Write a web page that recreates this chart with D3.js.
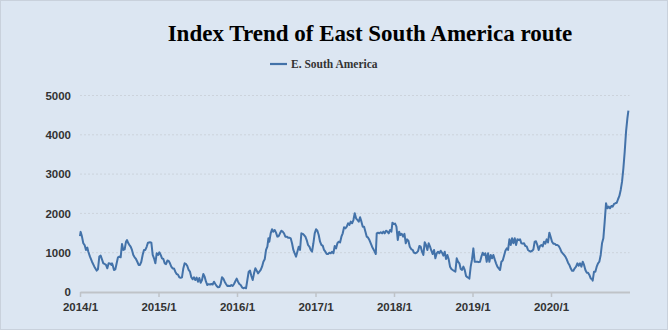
<!DOCTYPE html>
<html><head><meta charset="utf-8">
<script src="https://cdn.jsdelivr.net/npm/d3@7"></script>
<style>html,body{margin:0;padding:0;background:#fff;}svg{display:block}</style>
</head><body><svg id="chart" width="670" height="332"></svg>
<script>
const title = "Index Trend of East South America route";
const seriesName = "E. South America";
const xTickYears = [2014, 2015, 2016, 2017, 2018, 2019, 2020];
const xTickLabels = ["2014/1", "2015/1", "2016/1", "2017/1", "2018/1", "2019/1", "2020/1"];
const yTicks = [0, 1000, 2000, 3000, 4000, 5000];

// time as decimal year
const times = [
2014.000,2014.008,2014.025,2014.042,2014.059,2014.076,2014.093,2014.106,2014.127,2014.153,2014.183,2014.212,2014.229,2014.246,2014.263,2014.280,2014.297,2014.314,2014.331,2014.348,2014.365,2014.382,2014.399,2014.408,2014.416,2014.433,2014.450,2014.467,2014.484,2014.501,2014.518,2014.535,2014.552,2014.569,2014.586,2014.599,2014.616,2014.628,2014.645,2014.662,2014.679,2014.696,2014.713,2014.730,2014.747,2014.764,2014.781,2014.798,2014.815,2014.832,2014.849,2014.866,2014.892,2014.909,2014.926,2014.943,2014.960,2014.977,2014.994,
2015.011,2015.028,2015.045,2015.062,2015.079,2015.096,2015.113,2015.130,2015.146,2015.163,2015.180,2015.197,2015.214,2015.231,2015.248,2015.265,2015.282,2015.299,2015.316,2015.333,
2015.350,2015.367,2015.384,2015.401,2015.418,2015.435,2015.452,2015.469,2015.486,2015.503,2015.520,2015.537,2015.554,2015.571,2015.588,2015.605,2015.622,2015.639,2015.656,2015.673,2015.690,2015.707,2015.724,2015.741,2015.758,2015.775,2015.792,2015.809,2015.826,2015.843,2015.860,2015.877,2015.894,2015.911,2015.928,2015.945,2015.962,2015.979,2015.996,
2016.013,2016.030,2016.047,2016.064,2016.081,2016.098,2016.115,2016.132,2016.149,2016.166,2016.183,2016.200,2016.217,2016.234,2016.251,2016.268,2016.285,2016.302,2016.319,2016.336,2016.353,2016.370,2016.387,2016.400,2016.412,2016.429,2016.446,2016.463,2016.480,2016.497,2016.514,2016.531,2016.548,2016.565,2016.582,2016.599,2016.616,2016.633,2016.650,2016.667,2016.684,2016.701,2016.718,2016.735,2016.752,
2016.769,2016.786,2016.803,2016.820,2016.837,2016.854,2016.871,2016.888,2016.905,2016.922,2016.939,2016.956,2016.973,2016.990,
2017.007,2017.024,2017.041,2017.058,2017.075,2017.092,2017.109,2017.126,2017.143,2017.160,2017.177,2017.194,2017.211,2017.228,2017.245,2017.262,2017.279,2017.296,2017.313,2017.330,2017.347,2017.364,2017.381,2017.398,2017.415,2017.432,2017.449,2017.466,2017.483,2017.500,2017.517,2017.534,2017.551,2017.568,2017.585,2017.602,2017.619,2017.636,2017.653,2017.670,2017.687,2017.704,2017.721,2017.738,2017.755,2017.768,2017.780,2017.797,2017.814,2017.831,2017.848,2017.865,2017.882,2017.899,2017.916,2017.933,2017.950,2017.967,2017.980,2017.997,
2018.014,2018.031,2018.048,2018.065,2018.082,2018.099,2018.116,2018.133,2018.150,2018.167,2018.184,2018.201,
2018.221,2018.238,2018.255,2018.272,2018.289,2018.306,2018.323,2018.340,2018.357,2018.374,2018.391,2018.408,2018.425,2018.442,2018.459,2018.476,2018.493,2018.510,2018.527,2018.544,2018.561,2018.578,2018.595,2018.612,2018.629,2018.646,2018.663,2018.680,2018.697,2018.714,2018.731,2018.748,2018.765,2018.782,2018.799,2018.816,2018.833,2018.850,2018.867,2018.884,2018.901,2018.918,2018.935,2018.952,2018.960,2018.977,2018.994,
2019.011,2019.028,2019.045,2019.062,2019.079,2019.096,2019.113,2019.130,2019.147,2019.164,2019.181,2019.198,2019.215,2019.232,2019.249,2019.266,2019.283,2019.300,2019.317,2019.334,2019.351,2019.368,2019.385,2019.402,2019.419,2019.436,2019.453,2019.470,2019.487,2019.504,2019.521,2019.538,2019.555,2019.572,2019.589,2019.606,
2019.622,2019.639,2019.656,2019.673,2019.690,2019.707,2019.724,2019.741,2019.758,2019.775,2019.792,2019.809,2019.826,2019.843,2019.860,2019.877,2019.894,2019.911,2019.928,2019.945,2019.962,2019.979,2019.996,
2020.013,2020.030,2020.047,2020.064,2020.081,2020.098,2020.115,2020.132,2020.149,2020.166,2020.183,2020.200,2020.217,2020.234,2020.251,2020.268,2020.285,2020.302,2020.319,2020.336,2020.353,2020.370,2020.387,2020.404,2020.421,2020.438,2020.455,2020.472,2020.489,2020.506,2020.523,2020.531,2020.548,2020.565,2020.582,2020.599,2020.616,2020.633,2020.650,2020.667,2020.684,2020.701,2020.718,2020.735,2020.752,2020.769,2020.786,2020.803,2020.820,2020.837,2020.854,2020.871,2020.888,2020.905,2020.922,2020.939,2020.956,2020.973,2020.986
];

const values = [
1420,1530,1410,1240,1195,1070,1130,1025,900,770,645,545,580,900,925,830,730,713,690,603,730,728,690,730,690,560,575,730,883,900,883,1220,1070,1085,1280,1323,1240,1200,1153,1070,942,883,840,770,690,690,770,942,1070,1070,1150,1255,1265,1255,942,857,730,985,942,
1010,942,857,840,730,710,800,790,730,645,600,600,517,458,443,374,360,374,600,730,
713,662,560,517,374,323,374,305,365,262,357,237,305,458,390,262,178,200,190,204,190,262,204,153,119,125,204,374,340,262,204,153,160,150,178,153,204,272,340,
262,204,178,119,94,110,94,305,517,543,407,305,475,603,543,475,517,560,645,770,832,1070,1153,1366,1280,1493,1595,1535,1578,1510,1408,1420,1493,1560,1535,1493,1408,1408,1383,1383,1366,1240,1070,985,900,
1025,1153,1070,1493,1480,1450,1408,1323,1196,1153,1070,1025,1240,1493,
1595,1560,1450,1280,1196,1180,1070,1025,967,967,1000,985,1025,985,1170,1110,1240,1280,1260,1408,1493,1647,1620,1662,1748,1705,1790,1748,1832,2003,1875,1832,1790,1900,1790,1662,1662,1535,1408,1383,1323,1240,1153,1085,1025,967,1493,1510,1493,1520,1493,1535,1493,1560,1535,1493,1578,1535,1765,1730,
1740,1662,1323,1535,1450,1480,1408,1480,1240,1340,1300,1153,
1085,1070,1000,985,1000,1040,1170,1153,1025,942,1265,1196,1070,1240,1153,1050,967,1070,857,985,1025,985,1050,1000,925,1025,839,942,830,645,585,560,540,517,857,770,730,585,560,645,560,407,374,360,340,645,830,
1110,770,770,770,760,770,900,1000,942,985,770,985,770,942,857,942,830,730,645,600,560,770,800,925,1050,1110,1070,1340,1196,1366,1240,1366,1196,1340,1323,1340,
1240,1230,1240,1170,1160,1070,1045,1025,1045,1080,1280,1290,1196,1070,1170,1196,1160,1280,1230,1340,1260,1510,1400,
1280,1230,1230,1196,1196,1170,1110,1025,985,942,900,832,745,688,603,543,543,603,645,730,670,730,645,772,688,560,492,492,433,348,323,288,517,517,645,730,772,942,1240,1366,1790,2257,2130,2172,2130,2190,2172,2240,2257,2270,2360,2443,2597,2808,3148,3570,4080,4420,4615
];

const data = times.map((t, i) => ({t, v: values[i]}));

const svg = d3.select("#chart");
svg.append("rect").attr("x", 0.5).attr("y", 0.5).attr("width", 667).attr("height", 329)
  .attr("fill", "#dce6f2").attr("stroke", "#c9d1dc");

const x = d3.scaleLinear().domain([2014, 2021]).range([80, 629.5]);
const y = d3.scaleLinear().domain([0, 5000]).range([292, 95.5]);

// gridlines
svg.append("g").selectAll("line").data(yTicks.filter(d => d > 0)).join("line")
  .attr("x1", 80).attr("x2", 629.5)
  .attr("y1", d => y(d)).attr("y2", d => y(d))
  .attr("stroke", "#ccd3dc").attr("stroke-width", 1).attr("stroke-dasharray", "2,2");

// y axis labels
const yAxis = svg.append("g").attr("transform", "translate(80,0)")
  .call(d3.axisLeft(y).tickValues(yTicks).tickSize(0).tickPadding(9).tickFormat(d3.format("d")));
yAxis.select(".domain").remove();
yAxis.selectAll("text").attr("font-family", "'Liberation Sans', Arial, sans-serif")
  .attr("font-size", "11.5px").attr("font-weight", "bold").attr("fill", "#333");

// x axis
const xAxis = svg.append("g").attr("transform", "translate(0,292)")
  .call(d3.axisBottom(x).tickValues(xTickYears).tickSize(5).tickSizeOuter(0).tickPadding(6)
    .tickFormat((d, i) => xTickLabels[i]));
xAxis.select(".domain").attr("stroke", "#bfc3c8").attr("stroke-width", 2);
xAxis.selectAll(".tick line").attr("stroke", "#bfc3c8").attr("stroke-width", 1.5);
xAxis.selectAll("text").attr("font-family", "'Liberation Sans', Arial, sans-serif")
  .attr("font-size", "11.5px").attr("font-weight", "bold").attr("fill", "#333");

// line
const line = d3.line().x(d => x(d.t)).y(d => y(d.v)).curve(d3.curveLinear);
svg.append("path").datum(data).attr("d", line)
  .attr("fill", "none").attr("stroke", "#4372a9").attr("stroke-width", 2)
  .attr("stroke-linejoin", "round");

// title
svg.append("text").attr("x", 370).attr("y", 41).attr("text-anchor", "middle")
  .attr("font-family", "'Liberation Serif', 'Times New Roman', serif")
  .attr("font-size", "23px").attr("font-weight", "bold").attr("fill", "#000")
  .text(title);

// legend
svg.append("line").attr("x1", 270).attr("x2", 287).attr("y1", 64).attr("y2", 64)
  .attr("stroke", "#4372a9").attr("stroke-width", 2.2);
svg.append("text").attr("x", 291).attr("y", 68)
  .attr("font-family", "'Liberation Serif', 'Times New Roman', serif")
  .attr("font-size", "11.5px").attr("font-weight", "bold").attr("fill", "#333")
  .text(seriesName);
</script></body></html>
